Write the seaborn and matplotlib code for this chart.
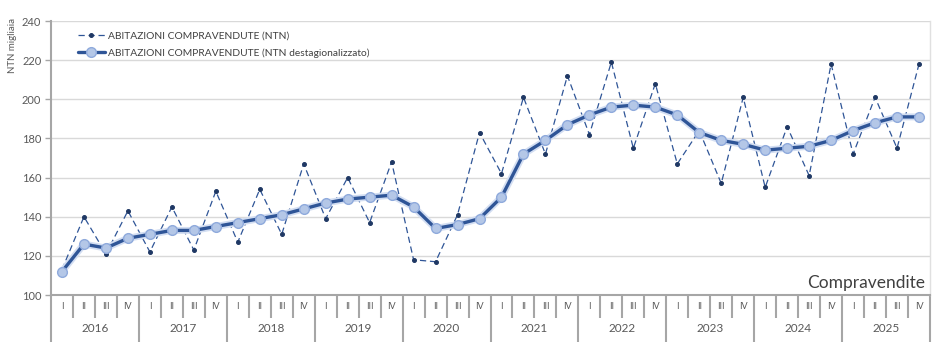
import numpy as np
import pandas as pd
import seaborn as sns
import matplotlib.pyplot as plt
from matplotlib.transforms import blended_transform_factory

# data (thousands of transactions, NTN)
anni = ["2016", "2017", "2018", "2019", "2020", "2021", "2022", "2023", "2024", "2025"]
trimestri = ["I", "II", "III", "IV"]

ntn = [113, 140, 121, 143,
       122, 145, 123, 153,
       127, 154, 131, 167,
       139, 160, 137, 168,
       118, 117, 141, 183,
       162, 201, 172, 212,
       182, 219, 175, 208,
       167, 184, 157, 201,
       155, 186, 161, 218,
       172, 201, 175, 218]

ntn_destag = [112, 126, 124, 129,
              131, 133, 133, 135,
              137, 139, 141, 144,
              147, 149, 150, 151,
              145, 134, 136, 139,
              150, 172, 179, 187,
              192, 196, 197, 196,
              192, 183, 179, 177,
              174, 175, 176, 179,
              184, 188, 191, 191]

label_ntn = "ABITAZIONI COMPRAVENDUTE (NTN)"
label_destag = "ABITAZIONI COMPRAVENDUTE (NTN destagionalizzato)"

df = pd.DataFrame({
    "pos": np.arange(len(ntn)),
    "anno": np.repeat(anni, 4),
    "trim": trimestri * len(anni),
    "ntn": ntn,
    "destag": ntn_destag,
})

sns.set_theme(style="white")
plt.rcParams["font.family"] = ["Lato", "DejaVu Sans"]

fig = plt.figure(figsize=(9.42, 3.55), dpi=100)
ax = fig.add_axes([51 / 942, 60 / 355, 879 / 942, 274 / 355])

grey_txt = "#595959"
grey_sep = "#A6A6A6"

sns.lineplot(data=df, x="pos", y="ntn", ax=ax, color="#2F5597", lw=0.9,
             linestyle=(0, (5, 3)), marker="o", markersize=2.8,
             markerfacecolor="#1F3864", markeredgecolor="#1F3864",
             label=label_ntn, zorder=3)
# soft halo under the seasonally adjusted line
sns.lineplot(data=df, x="pos", y="destag", ax=ax, color="#D3DEF2", lw=5,
             legend=False, zorder=3.5)
sns.lineplot(data=df, x="pos", y="destag", ax=ax, color="#2F5597", lw=2.4,
             marker="o", markersize=7, markerfacecolor="#B4C7E7",
             markeredgecolor="#8FAADC", markeredgewidth=1,
             label=label_destag, zorder=4)

ax.set_xlim(-0.5, len(ntn) - 0.5)
ax.set_ylim(100, 240)
ax.set_yticks(np.arange(100, 241, 20))
ax.yaxis.grid(True, color="#D9D9D9", lw=1)
ax.tick_params(axis="y", left=True, length=4, width=1, color=grey_sep,
               labelsize=8, labelcolor=grey_txt, pad=3)

# x axis: quarter labels, then years underneath
ax.set_xticks(df["pos"])
ax.set_xticklabels(df["trim"])
ax.tick_params(axis="x", bottom=False, length=0, labelsize=6.5,
               labelcolor=grey_txt, pad=5)
ax.set_xlabel("")
ax.set_ylabel("")

trans = blended_transform_factory(ax.transData, ax.transAxes)
for i in range(len(ntn) + 1):
    x = i - 0.5
    low = -0.1715 if i % 4 == 0 else -0.084
    ax.plot([x, x], [0, low], transform=trans, color=grey_sep, lw=1.5,
            clip_on=False, solid_capstyle="butt")
for k, anno in enumerate(anni):
    ax.text(4 * k + 1.5, -0.124, anno, transform=trans, ha="center", va="center",
            fontsize=8.5, color=grey_txt)

ax.spines["top"].set_visible(False)
ax.spines["left"].set_color(grey_sep)
ax.spines["left"].set_linewidth(1.5)
ax.spines["bottom"].set_color(grey_sep)
ax.spines["bottom"].set_linewidth(1.5)
ax.spines["right"].set_color("#E0E0E0")
ax.spines["right"].set_linewidth(1)

ax.text(-0.044, 0.91, "NTN migliaia", transform=ax.transAxes, rotation=90,
        ha="center", va="center", fontsize=7, color=grey_txt)
ax.text(0.995, 0.045, "Compravendite", transform=ax.transAxes, ha="right",
        va="center", fontsize=12.5, color="#404040")

ax.legend(loc="upper left", bbox_to_anchor=(0.02, 0.995), frameon=False,
          fontsize=7.4, handlelength=2.6, labelspacing=0.75, handletextpad=0.3,
          labelcolor="#404040")

fig.savefig("out.png", dpi=100)
